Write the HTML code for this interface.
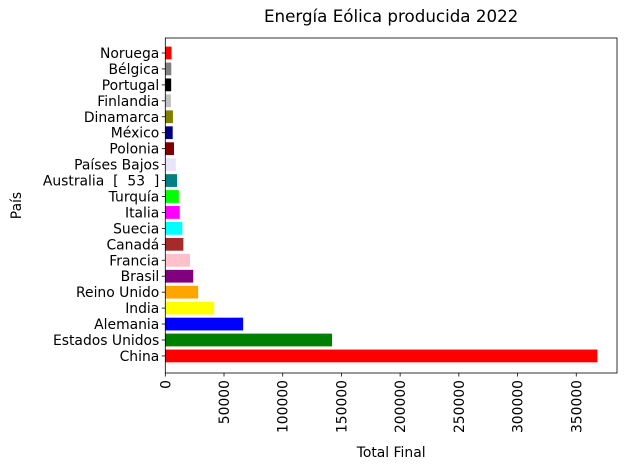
<!DOCTYPE html>
<html><head><meta charset="utf-8"><style>
body{margin:0;background:#fff;font-family:"Liberation Sans","DejaVu Sans",sans-serif;}
svg text{font-family:"DejaVu Sans","Liberation Sans",sans-serif;font-size:13.9px;fill:#000;white-space:pre;}
</style></head><body>
<svg id="chart" width="630" height="470" xmlns="http://www.w3.org/2000/svg"></svg>
<script>
const countries = ["China","Estados Unidos","Alemania","India","Reino Unido","Brasil","Francia","Canadá","Suecia","Italia","Turquía","Australia  [  53  ]","Países Bajos","Polonia","México","Dinamarca","Finlandia","Portugal","Bélgica","Noruega"];
const values = [368000,142000,66300,41600,28000,23800,21000,15400,14500,12300,11500,10000,9000,7400,6300,6500,4800,5000,5100,5300];
const colors = ["red","green","blue","yellow","orange","purple","pink","brown","cyan","magenta","lime","teal","lavender","maroon","navy","olive","silver","black","gray","red"];
const xTicks = [0,50000,100000,150000,200000,250000,300000,350000];

const NS="http://www.w3.org/2000/svg";
const svg=document.getElementById('chart');
const L=165.3,R=617,T=38,B=373;
const xMax=384700;
const x=v=>L+v/xMax*(R-L);
const yMin=-1.07,yMaxD=19.94;
const y=i=>B-(i-yMin)/(yMaxD-yMin)*(B-T);
const bh=0.8*(B-T)/(yMaxD-yMin);
function mk(tag,attrs,txt){const e=document.createElementNS(NS,tag);for(const k in attrs)e.setAttribute(k,attrs[k]);if(txt!==undefined)e.textContent=txt;svg.appendChild(e);return e;}

values.forEach((v,i)=>{
  const r=mk('rect',{x:x(0),y:y(i)-bh/2,width:x(v)-x(0),height:bh,fill:colors[i]});
  
  
  mk('line',{x1:L-3.5,x2:L,y1:y(i),y2:y(i),stroke:'#000','stroke-width':0.8});
  const t=mk('text',{x:L-6,y:y(i)+5,'text-anchor':'end'},countries[i]);
  
  
});
xTicks.forEach(v=>{
  mk('line',{x1:x(v),x2:x(v),y1:B,y2:B+3.5,stroke:'#000','stroke-width':0.8});
  const t=mk('text',{x:0,y:0,'text-anchor':'end',transform:`translate(${x(v)+5},${B+7}) rotate(-90)`},String(v));
  
  
});
const fr=mk('rect',{x:L,y:T,width:R-L,height:B-T,fill:'none',stroke:'#000','stroke-width':0.8});


const ti=mk('text',{x:(L+R)/2,y:22,'text-anchor':'middle','style':'font-size:16.7px'},'Energía Eólica producida 2022');


const xl=mk('text',{x:(L+R)/2,y:457,'text-anchor':'middle'},'Total Final');


const yl=mk('text',{x:0,y:0,'text-anchor':'middle',transform:`translate(21,${(T+B)/2}) rotate(-90)`},'País');


</script>
</body></html>
